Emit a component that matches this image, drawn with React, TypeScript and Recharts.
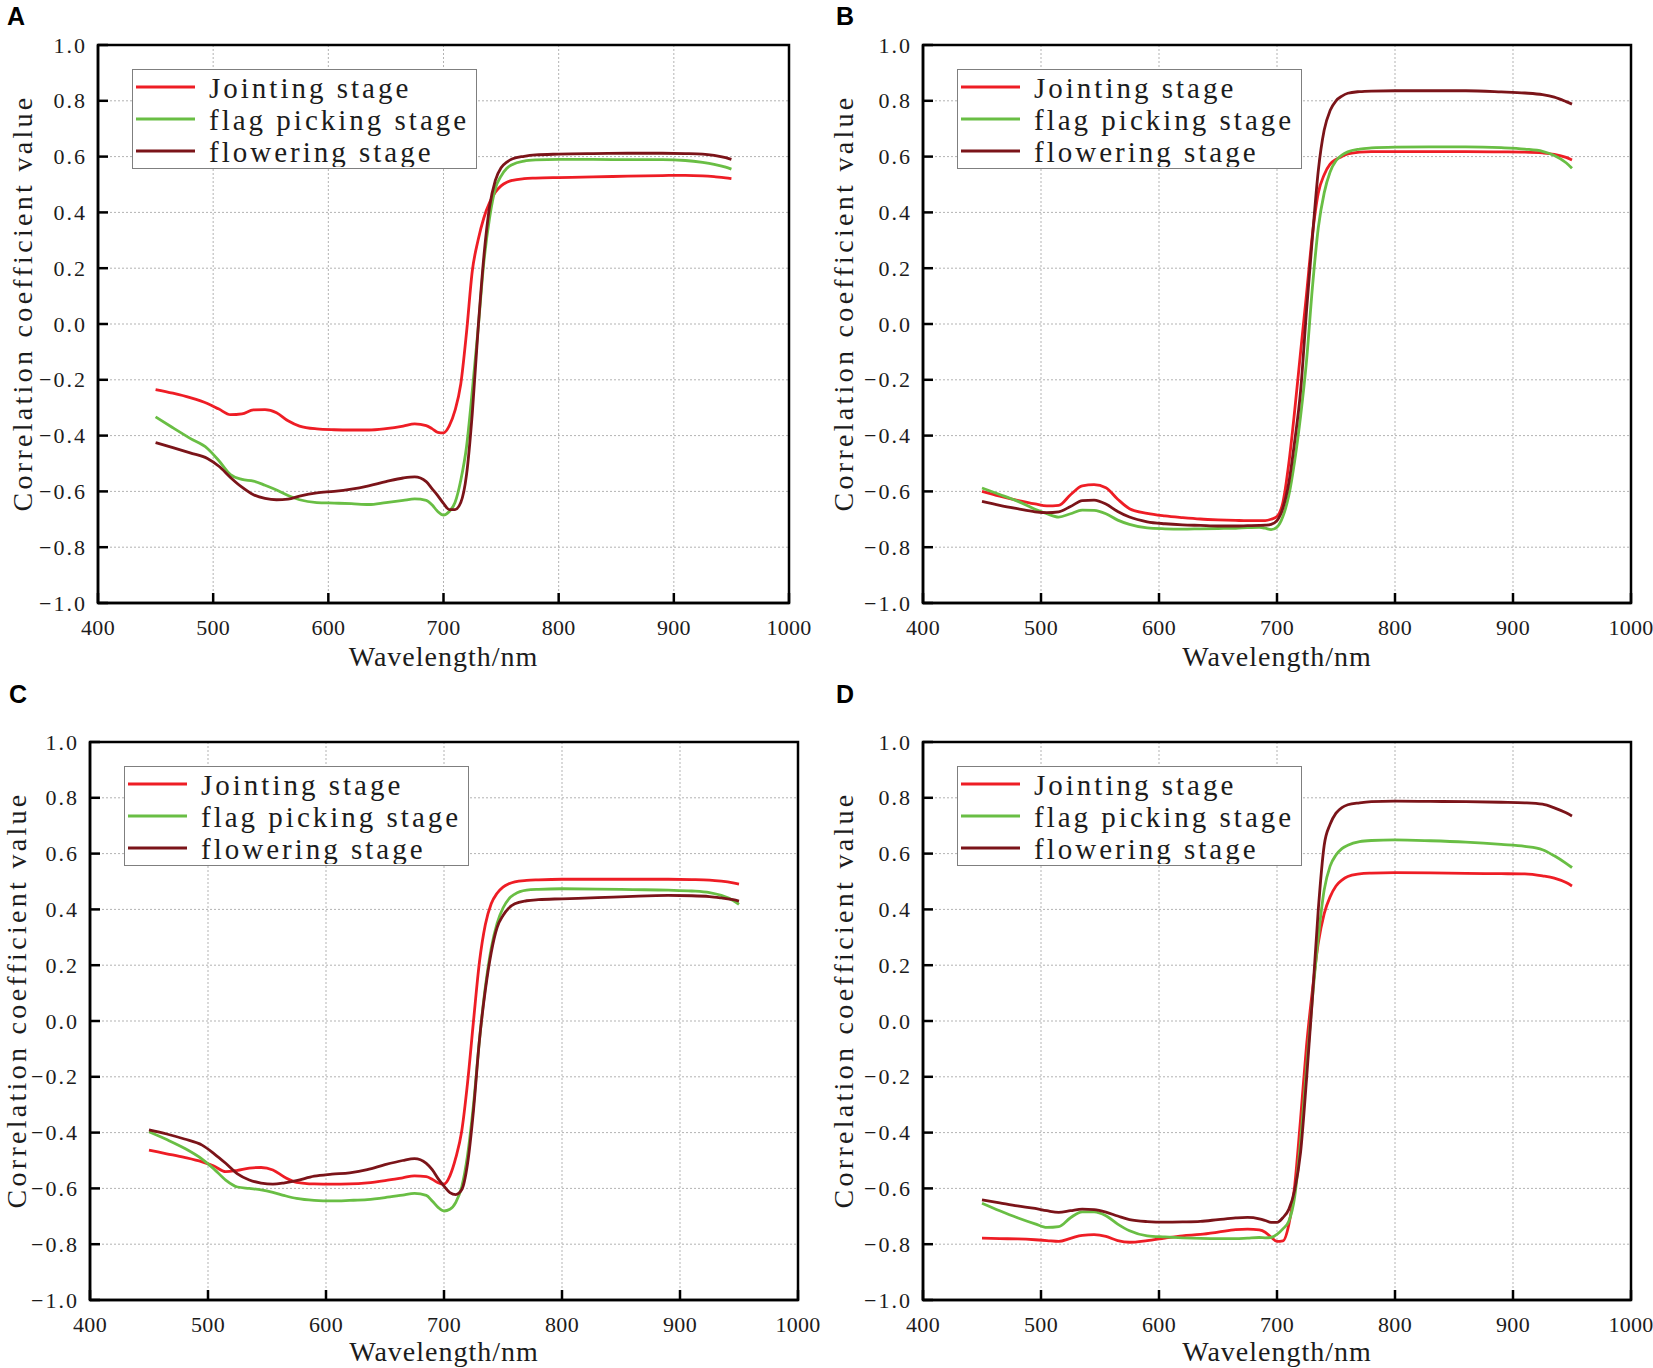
import React from "react";
import {
  LineChart,
  Line,
  XAxis,
  YAxis,
  CartesianGrid,
  ReferenceArea,
  Legend,
} from "recharts";

// sample wavelengths (nm) shared by every curve
const wavelengths = [
  450, 465, 480, 495, 505, 515, 525, 535, 545, 555, 565, 575, 590, 605, 620,
  635, 650, 665, 675, 685, 690, 695, 700, 705, 710, 715, 720, 725, 730, 735,
  740, 745, 750, 755, 760, 770, 780, 800, 830, 860, 890, 910, 925, 935, 945,
  950,
];

const xTicks = [400, 500, 600, 700, 800, 900, 1000];
const yTicks = [-1, -0.8, -0.6, -0.4, -0.2, 0, 0.2, 0.4, 0.6, 0.8, 1];

const seriesNames = ["Jointing stage", "flag picking stage", "flowering stage"];
const seriesColors = ["#ee1d25", "#69be44", "#7b1419"];

// panel A
const jointingA = [
  -0.235, -0.248, -0.264, -0.285, -0.305, -0.325, -0.322, -0.308, -0.307,
  -0.318, -0.347, -0.366, -0.376, -0.379, -0.38, -0.38, -0.375, -0.366, -0.358,
  -0.364, -0.375, -0.388, -0.39, -0.365, -0.31, -0.215, -0.03, 0.19, 0.3, 0.38,
  0.435, 0.472, 0.495, 0.508, 0.515, 0.521, 0.523, 0.525, 0.527, 0.53, 0.532,
  0.533, 0.531, 0.528, 0.524, 0.521,
];
const flagA = [
  -0.333, -0.372, -0.41, -0.446, -0.49, -0.54, -0.557, -0.563, -0.578, -0.595,
  -0.615, -0.63, -0.64, -0.642, -0.644, -0.647, -0.64, -0.632, -0.627, -0.632,
  -0.648, -0.672, -0.685, -0.672, -0.64, -0.56, -0.44, -0.24, -0.02, 0.22, 0.38,
  0.485, 0.53, 0.558, 0.572, 0.584, 0.588, 0.59, 0.59, 0.589, 0.589, 0.586,
  0.579, 0.572, 0.562, 0.555,
];
const floweringA = [
  -0.425, -0.443, -0.462, -0.482, -0.51, -0.55, -0.585, -0.612, -0.625, -0.63,
  -0.628, -0.617, -0.605, -0.6, -0.592, -0.58, -0.565, -0.552, -0.548, -0.565,
  -0.59, -0.615, -0.643, -0.665, -0.665, -0.64, -0.54, -0.32, -0.02, 0.24, 0.42,
  0.515, 0.56, 0.58, 0.592, 0.601, 0.606, 0.609, 0.611, 0.612, 0.612, 0.611,
  0.609, 0.604, 0.596, 0.59,
];

// panel B
const jointingB = [
  -0.6, -0.617, -0.632, -0.645, -0.652, -0.65, -0.612, -0.58, -0.576, -0.587,
  -0.628, -0.662, -0.679, -0.688, -0.694, -0.699, -0.702, -0.704, -0.705,
  -0.705, -0.705, -0.7, -0.69, -0.64, -0.5, -0.31, -0.1, 0.106, 0.32, 0.47,
  0.535, 0.573, 0.59, 0.6, 0.61, 0.616, 0.618, 0.618, 0.618, 0.618, 0.617,
  0.616, 0.613, 0.608, 0.597, 0.588,
];
const flagB = [
  -0.588, -0.611, -0.635, -0.664, -0.68, -0.692, -0.68, -0.667, -0.668, -0.68,
  -0.703, -0.718, -0.731, -0.734, -0.735, -0.734, -0.733, -0.732, -0.73,
  -0.729, -0.732, -0.737, -0.728, -0.69, -0.615, -0.49, -0.33, -0.133, 0.13,
  0.345, 0.47, 0.545, 0.585, 0.605, 0.617, 0.627, 0.631, 0.634, 0.635, 0.635,
  0.632, 0.627, 0.619, 0.604, 0.578, 0.558,
];
const floweringB = [
  -0.636, -0.65, -0.662, -0.673, -0.676, -0.673, -0.654, -0.633, -0.631,
  -0.645, -0.672, -0.692, -0.709, -0.716, -0.72, -0.722, -0.724, -0.724,
  -0.723, -0.722, -0.721, -0.718, -0.705, -0.66, -0.57, -0.42, -0.24, 0.046,
  0.31, 0.55, 0.695, 0.765, 0.8, 0.817, 0.827, 0.833, 0.835, 0.836, 0.836,
  0.836, 0.832, 0.828, 0.822, 0.813, 0.797, 0.788,
];

// panel C
const jointingC = [
  -0.463, -0.476, -0.489, -0.505, -0.52, -0.54, -0.535, -0.527, -0.525,
  -0.534, -0.56, -0.578, -0.584, -0.585, -0.584, -0.58, -0.572, -0.562,
  -0.555, -0.558, -0.567, -0.58, -0.585, -0.555, -0.49, -0.395, -0.22, 0.0,
  0.21, 0.345, 0.42, 0.458, 0.48, 0.492, 0.499, 0.504, 0.506, 0.508, 0.508,
  0.508, 0.508, 0.507, 0.505, 0.501, 0.495, 0.491,
];
const flagC = [
  -0.397, -0.425, -0.456, -0.495, -0.53, -0.57, -0.595, -0.6, -0.605, -0.614,
  -0.626, -0.636, -0.643, -0.645, -0.643, -0.64, -0.633, -0.624, -0.618,
  -0.625, -0.645, -0.668, -0.681, -0.675, -0.65, -0.595, -0.48, -0.3, -0.07,
  0.12, 0.26, 0.35, 0.405, 0.438, 0.455, 0.469, 0.472, 0.474, 0.473, 0.471,
  0.469, 0.466, 0.46, 0.45, 0.432, 0.418,
];
const floweringC = [
  -0.39, -0.405, -0.423, -0.445, -0.475, -0.51, -0.548, -0.57, -0.581, -0.585,
  -0.58, -0.572, -0.556, -0.549, -0.544, -0.533, -0.515, -0.5, -0.493, -0.51,
  -0.533, -0.565, -0.592, -0.615, -0.622, -0.605, -0.51, -0.32, -0.07, 0.11,
  0.245, 0.335, 0.378, 0.405, 0.42, 0.431, 0.435, 0.438, 0.442, 0.447, 0.45,
  0.449, 0.446, 0.441, 0.435, 0.43,
];

// panel D
const jointingD = [
  -0.778, -0.78, -0.781, -0.784, -0.787, -0.79, -0.779, -0.768, -0.766,
  -0.772, -0.787, -0.793, -0.787, -0.778, -0.77, -0.765, -0.757, -0.748,
  -0.746, -0.749, -0.757, -0.775, -0.79, -0.788, -0.73, -0.59, -0.35, -0.09,
  0.11, 0.28, 0.385, 0.445, 0.484, 0.505, 0.518, 0.527, 0.53, 0.532, 0.531,
  0.529, 0.528, 0.527, 0.52, 0.512, 0.496, 0.484,
];
const flagD = [
  -0.653, -0.68, -0.705, -0.727, -0.74, -0.737, -0.705, -0.684, -0.684,
  -0.698, -0.728, -0.752, -0.77, -0.774, -0.777, -0.779, -0.78, -0.78, -0.778,
  -0.776, -0.777, -0.776, -0.765, -0.745, -0.718, -0.63, -0.43, -0.17, 0.08,
  0.3, 0.47, 0.555, 0.595, 0.618, 0.63, 0.643, 0.647, 0.649, 0.646, 0.641,
  0.633, 0.626, 0.614, 0.592, 0.565, 0.55,
];
const floweringD = [
  -0.641, -0.652, -0.663, -0.672, -0.68, -0.686, -0.68, -0.674, -0.676,
  -0.685, -0.699, -0.712, -0.719, -0.721, -0.72, -0.718, -0.712, -0.706,
  -0.704, -0.709, -0.715, -0.722, -0.722, -0.705, -0.675, -0.606, -0.47, -0.21,
  0.08, 0.4, 0.63, 0.705, 0.745, 0.765, 0.775, 0.782, 0.786, 0.788, 0.787,
  0.786, 0.784, 0.782, 0.777, 0.764, 0.746, 0.735,
];

const QW = 827;
const QH = 684;
const Y_W = 50;
const X_H = 40;

const serif = "'Liberation Serif', 'Times New Roman', serif";
const ink = "#1c1c1c";

const panels = [
  {
    letter: "A",
    series: [jointingA, flagA, floweringA],
    ox: 0,
    oy: 0,
    plot: { left: 98, top: 45, right: 789, bottom: 603 },
    yLabelX: 22,
    letterX: 7,
    xLabelGap: 63,
  },
  {
    letter: "B",
    series: [jointingB, flagB, floweringB],
    ox: 826,
    oy: 0,
    plot: { left: 923, top: 45, right: 1631, bottom: 603 },
    yLabelX: 843,
    letterX: 836,
    xLabelGap: 63,
  },
  {
    letter: "C",
    series: [jointingC, flagC, floweringC],
    ox: 0,
    oy: 684,
    plot: { left: 90, top: 742, right: 798, bottom: 1300 },
    yLabelX: 16,
    letterX: 9,
    xLabelGap: 61,
  },
  {
    letter: "D",
    series: [jointingD, flagD, floweringD],
    ox: 826,
    oy: 684,
    plot: { left: 923, top: 742, right: 1631, bottom: 1300 },
    yLabelX: 843,
    letterX: 836,
    xLabelGap: 61,
  },
];

const fmtY = (v: number) => (v < 0 ? "\u2212" : "") + Math.abs(v).toFixed(1);

const XTick = (props: any) => {
  const { x, y, payload } = props;
  return (
    <g>
      <line x1={x} y1={y} x2={x} y2={y - 10} stroke="#000" strokeWidth={2.5} />
      <text
        x={x}
        y={y + 24}
        textAnchor="middle"
        dominantBaseline="central"
        fontFamily={serif}
        fontSize={22}
        letterSpacing={0.3}
        fill={ink}
      >
        {payload.value}
      </text>
    </g>
  );
};

const YTick = (props: any) => {
  const { x, y, payload } = props;
  return (
    <g>
      <line x1={x} y1={y} x2={x + 10} y2={y} stroke="#000" strokeWidth={2.5} />
      <text
        x={x - 11}
        y={y}
        textAnchor="end"
        dominantBaseline="central"
        fontFamily={serif}
        fontSize={22}
        letterSpacing={2}
        fill={ink}
      >
        {fmtY(payload.value)}
      </text>
    </g>
  );
};

const LegendBox = (props: any) => {
  const items =
    props.payload && props.payload.length
      ? props.payload
      : seriesNames.map((n, i) => ({ value: n, color: seriesColors[i] }));
  return (
    <div
      style={{
        width: 345,
        height: 100,
        border: "1.5px solid #7f7f7f",
        background: "#fff",
        boxSizing: "border-box",
      }}
    >
      <svg width={342} height={97} style={{ display: "block" }}>
        {items.map((p: any, i: number) => (
          <g key={p.value}>
            <line
              x1={3}
              x2={62}
              y1={17 + 32 * i}
              y2={17 + 32 * i}
              stroke={p.color}
              strokeWidth={2.8}
            />
            <text
              x={76}
              y={28 + 32 * i}
              fontFamily={serif}
              fontSize={29}
              letterSpacing={3}
              fill={ink}
            >
              {p.value}
            </text>
          </g>
        ))}
      </svg>
    </div>
  );
};

const Panel = ({ panel }: { panel: (typeof panels)[number] }) => {
  const { plot, ox, oy } = panel;
  const rows = wavelengths.map((w, i) => ({
    wavelength: w,
    jointing: panel.series[0][i],
    flag: panel.series[1][i],
    flowering: panel.series[2][i],
  }));
  const margin = {
    top: plot.top - oy,
    left: plot.left - ox - Y_W,
    right: ox + QW - plot.right,
    bottom: oy + QH - plot.bottom - X_H,
  };
  const cx = (plot.left + plot.right) / 2 - ox;
  const cy = (plot.top + plot.bottom) / 2 - 21 - oy;
  const ylx = panel.yLabelX - ox;
  return (
    <div
      style={{
        position: "absolute",
        left: ox,
        top: oy,
        width: QW,
        height: QH,
      }}
    >
      <div
        style={{
          position: "absolute",
          left: panel.letterX - ox,
          top: (oy === 0 ? 25 : 703) - 21 - oy,
          fontFamily: "'Liberation Sans', Arial, sans-serif",
          fontWeight: 700,
          fontSize: 25,
          lineHeight: "25px",
          color: "#000",
        }}
      >
        {panel.letter}
      </div>
      <LineChart width={QW} height={QH} data={rows} margin={margin}>
        <CartesianGrid stroke="#b3b3b3" strokeDasharray="2 2" strokeWidth={1} />
        <XAxis
          dataKey="wavelength"
          type="number"
          domain={[400, 1000]}
          ticks={xTicks}
          interval={0}
          height={X_H}
          tickSize={0}
          tickMargin={0}
          tickLine={false}
          axisLine={{ stroke: "#000", strokeWidth: 2.5 }}
          tick={XTick}
          label={() => (
            <text
              x={cx}
              y={plot.bottom - oy + panel.xLabelGap}
              textAnchor="middle"
              fontFamily={serif}
              fontSize={28}
              letterSpacing={1}
              fill={ink}
            >
              Wavelength/nm
            </text>
          )}
        />
        <YAxis
          type="number"
          domain={[-1, 1]}
          ticks={yTicks}
          interval={0}
          width={Y_W}
          tickSize={0}
          tickMargin={0}
          tickLine={false}
          axisLine={{ stroke: "#000", strokeWidth: 2.5 }}
          tick={YTick}
          label={() => (
            <text
              x={ylx}
              y={cy}
              transform={`rotate(-90, ${ylx}, ${cy})`}
              textAnchor="middle"
              dominantBaseline="central"
              fontFamily={serif}
              fontSize={28}
              letterSpacing={3.3}
              fill={ink}
            >
              Correlation coefficient value
            </text>
          )}
        />
        <ReferenceArea
          x1={400}
          x2={1000}
          y1={-1}
          y2={1}
          fill="none"
          stroke="#000"
          strokeWidth={2.5}
        />
        <Legend
          layout="horizontal"
          verticalAlign="middle"
          align="center"
          content={LegendBox}
          wrapperStyle={{
            left: plot.left - ox + 34,
            top: plot.top - oy + 24,
            width: 345,
            height: 100,
          }}
        />
        {["jointing", "flag", "flowering"].map((key, i) => (
          <Line
            key={key}
            dataKey={key}
            name={seriesNames[i]}
            type="monotone"
            stroke={seriesColors[i]}
            strokeWidth={2.8}
            dot={false}
            activeDot={false}
            isAnimationActive={false}
          />
        ))}
      </LineChart>
    </div>
  );
};

export default function App() {
  return (
    <div
      style={{
        position: "absolute",
        left: 0,
        top: 0,
        width: 1653,
        height: 1368,
        background: "#fff",
      }}
    >
      {panels.map((p) => (
        <Panel key={p.letter} panel={p} />
      ))}
    </div>
  );
}
